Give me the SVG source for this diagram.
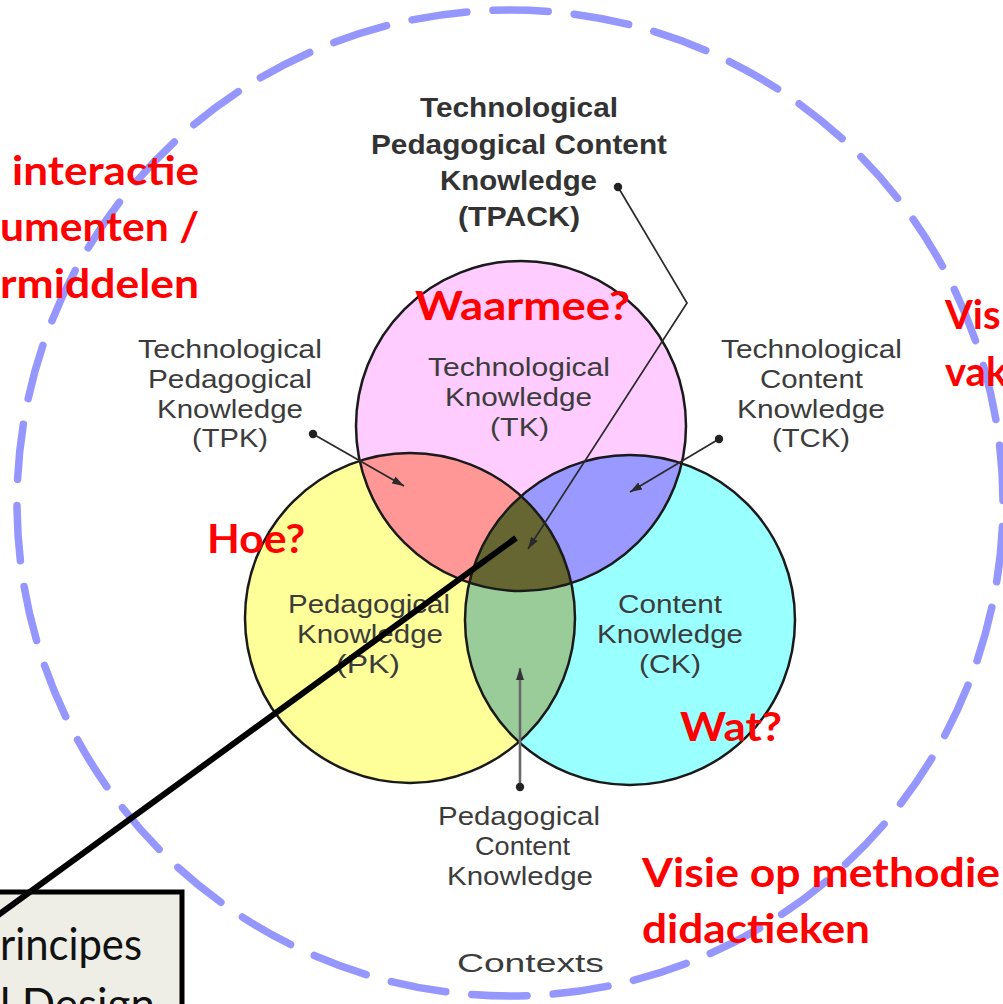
<svg xmlns="http://www.w3.org/2000/svg" width="1003" height="1004" viewBox="0 0 1003 1004">
<style>
.g{font-family:"Liberation Sans",Arial,sans-serif;font-size:25px;fill:#3c3c3c}
.gb{font-family:"Liberation Sans",Arial,sans-serif;font-size:28px;font-weight:bold;fill:#333}
.r{font-family:Lato,"Open Sans",sans-serif;font-size:40px;font-weight:bold;fill:#ff0000}
.bx{font-family:Lato,"Open Sans",sans-serif;font-size:44px;fill:#111}
.ring{fill:none;stroke:#1a1a1a;stroke-width:2.5}
.thin{fill:none;stroke:#2a2a2a;stroke-width:1.7}
</style>
<defs>
<clipPath id="cTK"><circle cx="521" cy="426" r="165"/></clipPath>
<clipPath id="cPK"><circle cx="410" cy="618" r="165"/></clipPath>
<marker id="ah" viewBox="0 0 12 8" refX="12" refY="4" markerWidth="12" markerHeight="8" markerUnits="userSpaceOnUse" orient="auto"><path d="M0,0 L12,4 L0,8 z" fill="#2a2a2a"/></marker>
<marker id="ahg" viewBox="0 0 12 8" refX="12" refY="4" markerWidth="12" markerHeight="8" markerUnits="userSpaceOnUse" orient="auto"><path d="M0,0 L12,4 L0,8 z" fill="#333"/></marker>
<marker id="dot" viewBox="0 0 10 10" refX="5" refY="5" markerWidth="10" markerHeight="10" markerUnits="userSpaceOnUse"><circle cx="5" cy="5" r="4.2" fill="#222"/></marker>
</defs>
<rect width="1003" height="1004" fill="#fff"/>

<g id="contexts">
<circle cx="510" cy="503" r="493" fill="none" stroke="#9696ff" stroke-width="7.5" stroke-linecap="round" pathLength="3800" stroke-dasharray="68 32" stroke-dashoffset="-29"/>
<text class="g" x="457" y="972" font-size="37" textLength="147" lengthAdjust="spacingAndGlyphs">Contexts</text>
</g>

<g id="venn">
<circle id="TK" cx="521" cy="426" r="165" fill="#ffccff"/>
<circle id="PK" cx="410" cy="618" r="165" fill="#ffff99"/>
<circle id="CK" cx="630" cy="620" r="165" fill="#99ffff"/>
<circle cx="410" cy="618" r="165" fill="#ff9797" clip-path="url(#cTK)"/>
<circle cx="630" cy="620" r="165" fill="#9999ff" clip-path="url(#cTK)"/>
<circle cx="630" cy="620" r="165" fill="#99cc99" clip-path="url(#cPK)"/>
<g clip-path="url(#cPK)"><circle cx="630" cy="620" r="165" fill="#666633" clip-path="url(#cTK)"/></g>
<circle class="ring" cx="521" cy="426" r="165"/>
<circle class="ring" cx="410" cy="618" r="165"/>
<circle class="ring" cx="630" cy="620" r="165"/>
</g>

<g id="connectors">
<polyline class="thin" points="618,187 687,303 528,549" marker-start="url(#dot)" marker-end="url(#ah)"/>
<line class="thin" x1="313" y1="434" x2="404" y2="486" marker-start="url(#dot)" marker-end="url(#ah)"/>
<line class="thin" x1="719" y1="439" x2="630" y2="492" marker-start="url(#dot)" marker-end="url(#ah)"/>
<line x1="520" y1="787" x2="520" y2="668" stroke="#6a6a6a" stroke-width="2.6" marker-start="url(#dot)" marker-end="url(#ahg)"/>
</g>

<g id="tpack">
<text class="gb" x="420" y="117" textLength="198" lengthAdjust="spacingAndGlyphs">Technological</text>
<text class="gb" x="371" y="154" textLength="296" lengthAdjust="spacingAndGlyphs">Pedagogical Content</text>
<text class="gb" x="440" y="190" textLength="157" lengthAdjust="spacingAndGlyphs">Knowledge</text>
<text class="gb" x="458" y="226" textLength="122" lengthAdjust="spacingAndGlyphs">(TPACK)</text>
</g>

<g id="tpk">
<text class="g" x="138" y="358" textLength="184" lengthAdjust="spacingAndGlyphs">Technological</text>
<text class="g" x="148" y="388" textLength="164" lengthAdjust="spacingAndGlyphs">Pedagogical</text>
<text class="g" x="157" y="418" textLength="146" lengthAdjust="spacingAndGlyphs">Knowledge</text>
<text class="g" x="192" y="447" textLength="76" lengthAdjust="spacingAndGlyphs">(TPK)</text>
</g>

<g id="tk">
<text class="g" x="428" y="376" textLength="182" lengthAdjust="spacingAndGlyphs">Technological</text>
<text class="g" x="445" y="406" textLength="147" lengthAdjust="spacingAndGlyphs">Knowledge</text>
<text class="g" x="490" y="436" textLength="59" lengthAdjust="spacingAndGlyphs">(TK)</text>
</g>

<g id="tck">
<text class="g" x="721" y="358" textLength="181" lengthAdjust="spacingAndGlyphs">Technological</text>
<text class="g" x="760" y="388" textLength="103" lengthAdjust="spacingAndGlyphs">Content</text>
<text class="g" x="737" y="418" textLength="148" lengthAdjust="spacingAndGlyphs">Knowledge</text>
<text class="g" x="772" y="447" textLength="78" lengthAdjust="spacingAndGlyphs">(TCK)</text>
</g>

<g id="pk">
<text class="g" x="288" y="613" textLength="162" lengthAdjust="spacingAndGlyphs">Pedagogical</text>
<text class="g" x="297" y="643" textLength="146" lengthAdjust="spacingAndGlyphs">Knowledge</text>
<text class="g" x="336" y="673" textLength="64" lengthAdjust="spacingAndGlyphs">(PK)</text>
</g>

<g id="ck">
<text class="g" x="618" y="613" textLength="104" lengthAdjust="spacingAndGlyphs">Content</text>
<text class="g" x="597" y="643" textLength="146" lengthAdjust="spacingAndGlyphs">Knowledge</text>
<text class="g" x="639" y="673" textLength="62" lengthAdjust="spacingAndGlyphs">(CK)</text>
</g>

<g id="pck">
<text class="g" x="438" y="825" textLength="162" lengthAdjust="spacingAndGlyphs">Pedagogical</text>
<text class="g" x="475" y="855" textLength="95" lengthAdjust="spacingAndGlyphs">Content</text>
<text class="g" x="447" y="885" textLength="146" lengthAdjust="spacingAndGlyphs">Knowledge</text>
</g>

<g id="questions">
<text class="r" x="415" y="320" textLength="215" lengthAdjust="spacingAndGlyphs">Waarmee?</text>
<text class="r" x="207" y="553" textLength="98" lengthAdjust="spacingAndGlyphs">Hoe?</text>
<text class="r" x="680" y="741" textLength="102" lengthAdjust="spacingAndGlyphs">Wat?</text>
</g>

<g id="visie-left">
<text class="r" x="12" y="185" textLength="187" lengthAdjust="spacingAndGlyphs">interactie</text>
<text class="r" x="0" y="241" textLength="199" lengthAdjust="spacingAndGlyphs">umenten /</text>
<text class="r" x="0" y="298" textLength="199" lengthAdjust="spacingAndGlyphs">rmiddelen</text>
</g>

<g id="visie-right">
<text class="r" x="945" y="329">Vis</text>
<text class="r" x="945" y="386">vak</text>
</g>

<g id="visie-bottom">
<text class="r" x="642" y="887" textLength="358" lengthAdjust="spacingAndGlyphs">Visie op methodie</text>
<text class="r" x="642" y="943" textLength="228" lengthAdjust="spacingAndGlyphs">didactieken</text>
</g>

<g id="callout">
<rect x="-10" y="892" width="192" height="130" fill="#eeeee6" stroke="#000" stroke-width="5"/>
<text class="bx" x="0" y="960" textLength="142" lengthAdjust="spacingAndGlyphs">rincipes</text>
<text class="bx" x="0" y="1020" textLength="155" lengthAdjust="spacingAndGlyphs">l Design</text>
<line x1="516" y1="538" x2="-10" y2="921" stroke="#000" stroke-width="6"/>
</g>
</svg>
